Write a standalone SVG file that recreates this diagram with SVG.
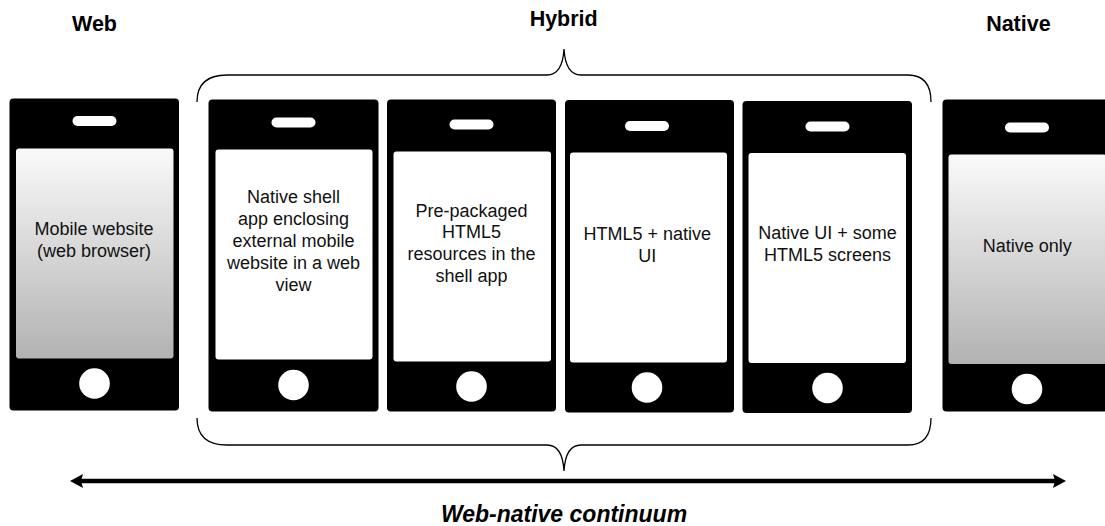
<svg xmlns="http://www.w3.org/2000/svg" width="1105" height="526" viewBox="0 0 1105 526">
  <defs>
    <linearGradient id="screenShade" x1="0" y1="0" x2="0" y2="1">
      <stop offset="0" stop-color="#fafafa"/>
      <stop offset="1" stop-color="#b2b2b2"/>
    </linearGradient>
    <style>
      .body { fill: #000000; }
      .screen { fill: #ffffff; }
      .screen.shaded { fill: url(#screenShade); }
      .speaker, .home { fill: #ffffff; }
      .label { font-family: "Liberation Sans", Arial, sans-serif; font-size: 18px; fill: #111111; text-anchor: middle; }
      .head { font-family: "Liberation Sans", Arial, sans-serif; font-size: 21.5px; font-weight: bold; fill: #000000; text-anchor: middle; }
      .axis { font-family: "Liberation Sans", Arial, sans-serif; font-size: 23px; font-weight: bold; font-style: italic; fill: #000000; text-anchor: middle; }
      .brace { fill: none; stroke: #000000; stroke-width: 1.3; }
      .shaft { stroke: #000000; stroke-width: 4.5; }
    </style>
  </defs>
  <rect width="1105" height="526" fill="#ffffff"/>

  <!-- column headings -->
  <text class="head" x="94.5" y="31">Web</text>
  <text class="head" x="563.7" y="26">Hybrid</text>
  <text class="head" x="1018.4" y="31">Native</text>

  <!-- phone 1: web -->
  <g id="phone-web">
    <rect class="body" x="9.5" y="98.5" width="169.5" height="312" rx="4"/>
    <rect class="screen shaded" x="16" y="148.5" width="157.5" height="210" rx="3"/>
    <rect class="speaker" x="72.5" y="116" width="44" height="10" rx="5"/>
    <circle class="home" cx="94.5" cy="383.5" r="15.3"/>
    <text class="label" x="94" y="235">Mobile website</text>
    <text class="label" x="94" y="256.7">(web browser)</text>
  </g>

  <!-- phone 2: shell app with external site -->
  <g id="phone-shell-web">
    <rect class="body" x="208.5" y="99.5" width="170" height="312" rx="4"/>
    <rect class="screen" x="215.5" y="149.5" width="157" height="210" rx="3"/>
    <rect class="speaker" x="271.5" y="117.5" width="44" height="10" rx="5"/>
    <circle class="home" cx="293.5" cy="385" r="15.3"/>
    <text class="label" x="293.5" y="202.5">Native shell</text>
    <text class="label" x="293.5" y="224.5">app enclosing</text>
    <text class="label" x="293.5" y="246.5">external mobile</text>
    <text class="label" x="293.5" y="268.5">website in a web</text>
    <text class="label" x="293.5" y="290.5">view</text>
  </g>

  <!-- phone 3: packaged HTML5 -->
  <g id="phone-packaged">
    <rect class="body" x="387" y="99.5" width="169" height="312" rx="4"/>
    <rect class="screen" x="393.5" y="151.5" width="157.5" height="210" rx="3"/>
    <rect class="speaker" x="449.5" y="119.5" width="44" height="10" rx="5"/>
    <circle class="home" cx="471.5" cy="386.5" r="15.3"/>
    <text class="label" x="471.5" y="216.5">Pre-packaged</text>
    <text class="label" x="471.5" y="238.3">HTML5</text>
    <text class="label" x="471.5" y="260.1">resources in the</text>
    <text class="label" x="471.5" y="281.9">shell app</text>
  </g>

  <!-- phone 4: HTML5 + native UI -->
  <g id="phone-html5-native">
    <rect class="body" x="565" y="100" width="169" height="312.5" rx="4"/>
    <rect class="screen" x="570" y="152.5" width="157" height="210" rx="3"/>
    <rect class="speaker" x="625" y="121" width="44" height="10" rx="5"/>
    <circle class="home" cx="647" cy="387.5" r="15.3"/>
    <text class="label" x="647.3" y="240">HTML5 + native</text>
    <text class="label" x="647.3" y="261.7">UI</text>
  </g>

  <!-- phone 5: native UI with some HTML5 -->
  <g id="phone-native-html5">
    <rect class="body" x="742.5" y="101" width="169.5" height="312" rx="4"/>
    <rect class="screen" x="748.5" y="153" width="157.5" height="210" rx="3"/>
    <rect class="speaker" x="805.5" y="121.5" width="44" height="10" rx="5"/>
    <circle class="home" cx="827.5" cy="388" r="15.3"/>
    <text class="label" x="827.5" y="239">Native UI + some</text>
    <text class="label" x="827.5" y="261">HTML5 screens</text>
  </g>

  <!-- phone 6: native only -->
  <g id="phone-native">
    <rect class="body" x="942.5" y="99.5" width="170" height="312" rx="4"/>
    <rect class="screen shaded" x="948.5" y="154.5" width="158" height="209.5" rx="3"/>
    <rect class="speaker" x="1005" y="122.5" width="44" height="10" rx="5"/>
    <circle class="home" cx="1027" cy="389" r="15.3"/>
    <text class="label" x="1027.3" y="252.3">Native only</text>
  </g>

  <!-- braces and continuum axis -->
  <g id="connectors">
    <path class="brace" d="M 197 102 Q 197 75 227 75 L 547 75 Q 562.5 75 564 49 Q 565.5 75 581 75 L 908 75 Q 931 75 931 102"/>
    <path class="brace" d="M 197 418 Q 197 445 227 445 L 547 445 Q 562.5 445 564 471 Q 565.5 445 581 445 L 908 445 Q 931 445 931 418"/>
    <line class="shaft" x1="80" y1="481" x2="1056" y2="481"/>
    <polygon points="70,481 83,474 81,481 83,488" fill="#000000"/>
    <polygon points="1066,481 1053,474 1055,481 1053,488" fill="#000000"/>
  </g>

  <text class="axis" x="564" y="522">Web-native continuum</text>
</svg>
